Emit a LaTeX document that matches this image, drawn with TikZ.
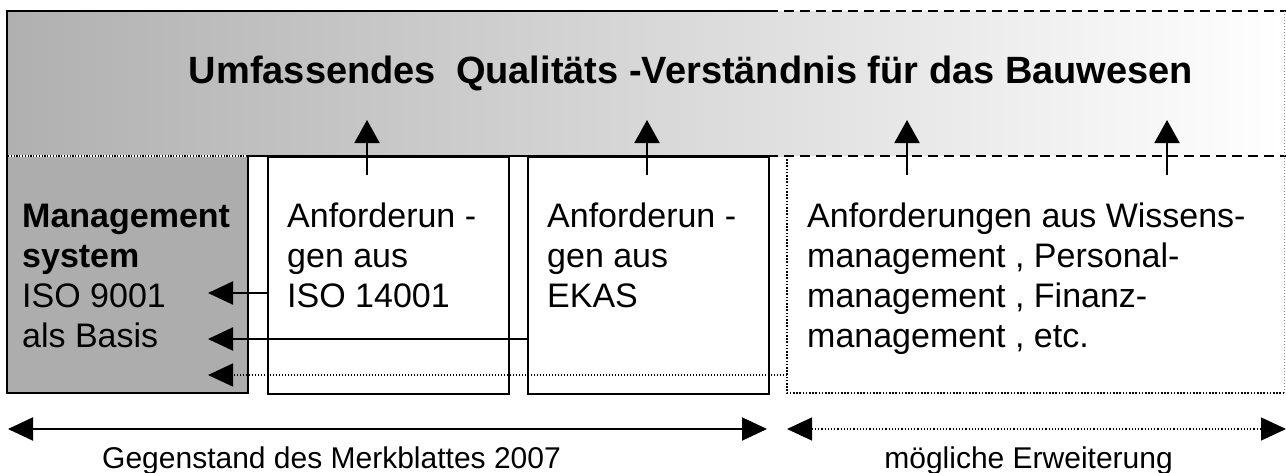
\documentclass[tikz,border=0pt]{standalone}
\usepackage{fontspec}
\setmainfont{Liberation Sans}
\usetikzlibrary{arrows.meta}
\newcommand\bodyfnt{\fontsize{34}{40}\selectfont}
\newcommand\titlefnt{\fontsize{38}{42}\selectfont\bfseries}
\newcommand\footfnt{\fontsize{30}{34}\selectfont}
\begin{document}
\begin{tikzpicture}[x=1pt,y=-1pt,
  frame/.style={line width=2pt},
  dotline/.style={line width=1.6pt, dash pattern=on 1.6pt off 1.6pt},
  dashline/.style={line width=2pt, dash pattern=on 10pt off 6pt},
  uparrow/.style={line width=2pt, -{Triangle[length=23pt,width=25pt]}},
  leftarrow/.style={line width=2pt, -{Triangle[length=25pt,width=23pt]}},
  boxnode/.style={anchor=north west, minimum width=241pt, minimum height=237pt, inner sep=0pt},
  txt/.style={anchor=north west, inner sep=0pt, align=left, font=\bodyfnt}
]
\useasboundingbox (0,0) rectangle (1286,472);
% gradient band
\shade[left color=black!31, right color=white] (7,11) rectangle (1284,156);
% boxes
\node[boxnode, fill=black!32] (mgmt) at (7,156) {};
\node[boxnode, fill=white, draw, line width=2pt] (iso) at (267,156) {};
\node[boxnode, fill=white, draw, line width=2pt] (ekas) at (527,156) {};
\node[anchor=north west, minimum width=497pt, minimum height=237pt, inner sep=0pt, fill=white] (ext) at (787,156) {};
% frame lines
\draw[frame] (768,11) -- (7,11) -- (7,393) -- (248,393) -- (248,156) -- (768,156);
\draw[dashline] (768,11) -- (1286,11);
\draw[dashline] (768,156) -- (1286,156);
\draw[gray, line width=0.8pt, dash pattern=on 1pt off 2pt] (1284,11) -- (1284,393);
\draw[dotline] (787,159) -- (787,393) -- (1284,393);
\draw[white, line width=1.4pt] (8,156) -- (247,156);
\draw[line width=1.2pt, dash pattern=on 1.2pt off 1.6pt] (8,156) -- (247,156);
% title
\node[anchor=base, inner sep=0pt, font=\titlefnt] (title) at (691,83) {Umfassendes\hspace{0.25em} Qualitäts -Verständnis für das Bauwesen};
% box texts
\node[txt] (tm) at (22,199) {\strut\textbf{Management}\\\textbf{system}\\ISO 9001\\als Basis};
\node[txt] (ti) at (287,199) {\strut Anforderun -\\gen aus\\ISO 14001};
\node[txt] (te) at (547,199) {\strut Anforderun -\\gen aus\\EKAS};
\node[txt] (tx) at (807,199) {\strut Anforderungen aus Wissens-\\management , Personal-\\management , Finanz-\\management , etc.};
% up arrows
\coordinate (u1) at (367,175); \coordinate (v1) at (367,120);
\coordinate (u2) at (647,175); \coordinate (v2) at (647,120);
\coordinate (u3) at (907,175); \coordinate (v3) at (907,120);
\coordinate (u4) at (1167,175); \coordinate (v4) at (1167,120);
\draw[uparrow] (u1) -- (v1);
\draw[uparrow] (u2) -- (v2);
\draw[uparrow] (u3) -- (v3);
\draw[uparrow] (u4) -- (v4);
% left arrows
\coordinate (l1) at (208,293); \coordinate (l2) at (208,339); \coordinate (l3) at (208,375);
\draw[leftarrow] (iso.west |- l1) -- (l1);
\draw[leftarrow] (ekas.west |- l2) -- (l2);
\draw[leftarrow, line width=1.4pt, dash pattern=on 1.4pt off 1.6pt] (ext.west |- l3) -- (l3);
% bottom arrows
\coordinate (b1) at (8,429); \coordinate (b2) at (767,429);
\coordinate (b3) at (787,429); \coordinate (b4) at (1286,429);
\draw[line width=2pt, {Triangle[length=25pt,width=23pt]}-{Triangle[length=25pt,width=23pt]}] (b1) -- (b2);
\draw[line width=1.2pt, dash pattern=on 1.2pt off 2pt, {Triangle[length=25pt,width=23pt]}-{Triangle[length=25pt,width=23pt]}] (b3) -- (b4);
\node[anchor=base west, inner sep=0pt, font=\footfnt] (g1) at (102,468) {Gegenstand des Merkblattes 2007};
\node[anchor=base east, inner sep=0pt, font=\footfnt] (g2) at (1173,468) {mögliche Erweiterung};
\end{tikzpicture}
\end{document}
